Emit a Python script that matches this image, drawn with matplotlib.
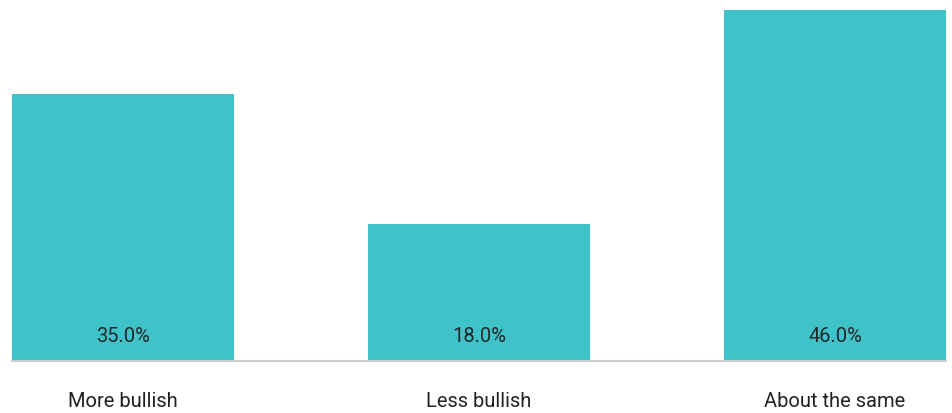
import matplotlib.pyplot as plt

# sentiment survey results
categories = ["More bullish", "Less bullish", "About the same"]
shares = [35.0, 18.0, 46.0]

plt.rcParams['font.family'] = ['Roboto', 'DejaVu Sans']

fig = plt.figure(figsize=(9.52, 4.13), dpi=100)
ax = fig.add_axes([12 / 952, 52 / 413, 934 / 952, 361 / 413])

pos = range(len(categories))
bars = ax.bar(pos, shares, width=0.624, color="#40c3c8")

for x, v in zip(pos, shares):
    ax.text(x, 2.0, f"{v:.1f}%", ha="center", va="bottom",
            fontsize=14.5, color="#1e2a2b")

ax.set_xlim(-0.312, 2.312)
ax.set_ylim(0, 47.3)
ax.set_xticks(list(pos))
ax.set_xticklabels(categories, fontsize=14.5, color="#222222")
ax.tick_params(axis="x", length=0, pad=22)
ax.set_yticks([])
for side in ["top", "left", "right"]:
    ax.spines[side].set_visible(False)
ax.spines["bottom"].set_color("#cccccc")
ax.spines["bottom"].set_linewidth(1.5)

fig.savefig("out.png", dpi=100)
